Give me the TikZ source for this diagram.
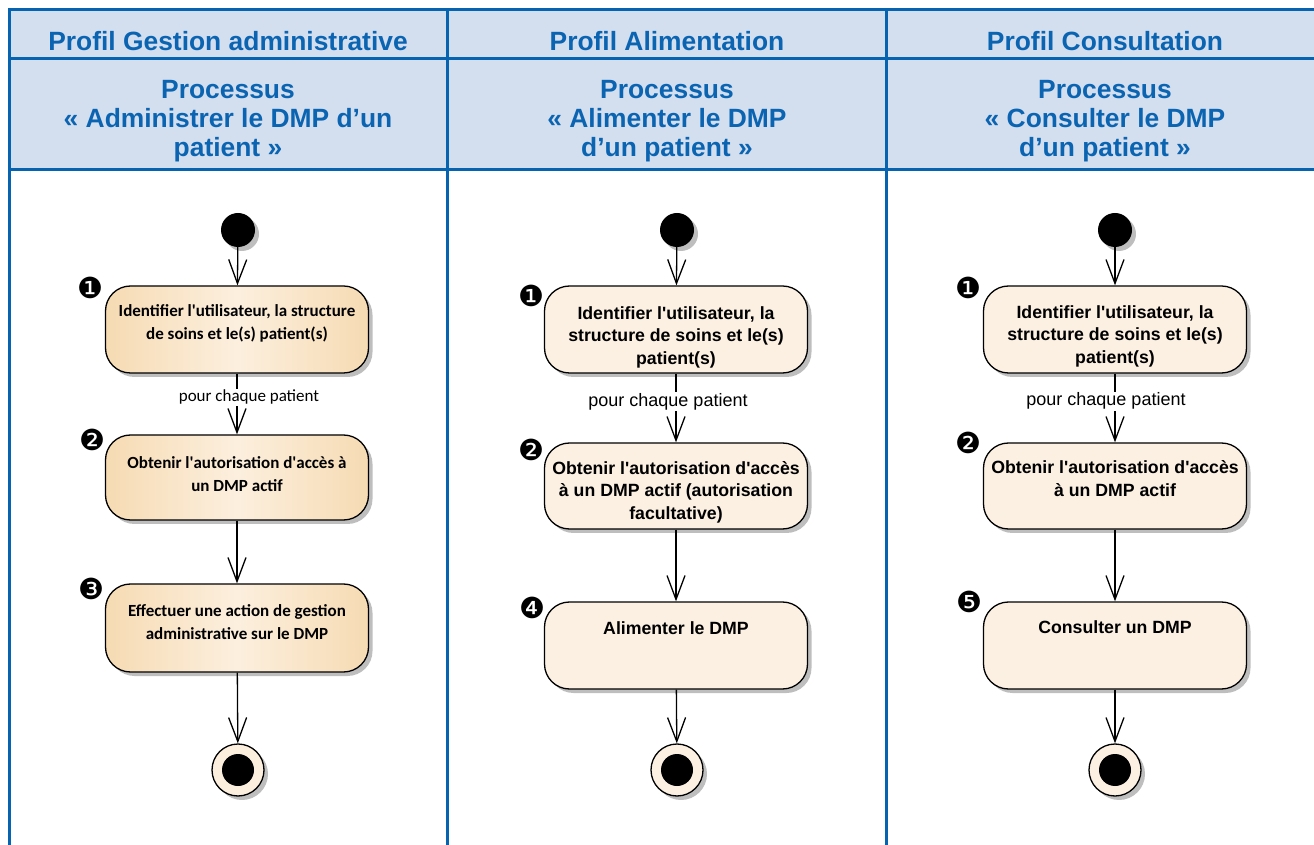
\documentclass[tikz,border=0pt]{standalone}
\usepackage{fontspec}
\setmainfont{Liberation Sans}
\newfontfamily\calibri{Carlito}
\newfontfamily\puces{DejaVu Sans}
\usetikzlibrary{arrows.meta,shadows,positioning}
\definecolor{bleuT}{RGB}{5,99,176}
\definecolor{bleuX}{RGB}{10,100,178}
\definecolor{bleuF}{RGB}{211,223,238}
\definecolor{beige}{RGB}{251,240,226}
\definecolor{ocreF}{RGB}{246,219,179}
\definecolor{ocreC}{RGB}{252,239,222}
\definecolor{ombre}{RGB}{190,190,190}

\begin{document}
\begin{tikzpicture}[x=1pt,y=1pt,
	cadre/.style={draw=bleuT, line width=3pt},
	titre/.style={font=\bfseries\fontsize{26.4}{29}\selectfont, text=bleuX, align=center, inner sep=0pt, anchor=base},
	ombrage/.style={drop shadow={shadow xshift=4pt, shadow yshift=-4pt, fill=ombre, opacity=1}},
	action/.style={draw, line width=1.3pt, rounded corners=25pt, minimum width=263pt, minimum height=87pt, fill=beige, ombrage},
	actionA/.style={action, left color=ocreF, right color=ocreF, middle color=ocreC},
	texte/.style={font=\bfseries\fontsize{17.7}{22.5}\selectfont, align=center, inner sep=0pt, anchor=base},
	texteA/.style={font=\calibri\bfseries\fontsize{17}{23}\selectfont, align=center, inner sep=0pt, anchor=base},
	garde/.style={font=\fontsize{18}{20}\selectfont, fill=white, inner sep=1pt},
	gardeA/.style={font=\calibri\fontsize{17}{20}\selectfont, fill=white, inner sep=1pt},
	puce/.style={font=\puces\fontsize{29}{29}\selectfont, inner sep=0pt},
	debut/.style={circle, fill=black, minimum size=34pt, inner sep=0pt, ombrage},
	fin/.style={circle, draw, line width=1.3pt, fill=beige, minimum size=52pt, inner sep=0pt, ombrage},
	fleche/.style={line width=1.3pt, -{Straight Barb[length=24pt,width=18pt,line width=1.3pt]}}]
	\useasboundingbox (0,0) rectangle (1314,844);

	% Bandeau des couloirs
	\fill[bleuF] (9,834) rectangle (1320,674);
	\draw[cadre] (1320,834) -- (9,834) -- (9,-5);
	\draw[cadre] (9,785) -- (1320,785);
	\draw[cadre] (9,674) -- (1320,674);
	\draw[cadre] (447,834) -- (447,-5);
	\draw[cadre] (886,834) -- (886,-5);

	\node[titre] (h1) at (228,793) {Profil Gestion administrative};
	\node[titre] (h2) at (667,793) {Profil Alimentation};
	\node[titre] (h3) at (1105,793) {Profil Consultation};
	% la base d'un texte sur plusieurs lignes est celle de la derniere ligne
	\node[titre] (q1) at (228,687) {Processus\\« Administrer le DMP d’un\\patient »};
	\node[titre] (q2) at (667,687) {Processus\\« Alimenter le DMP\\d’un patient »};
	\node[titre] (q3) at (1105,687) {Processus\\« Consulter le DMP\\d’un patient »};

	% Couloir 1 : gestion administrative
	\node[debut] (d1) at (238,614) {};
	\node[actionA] (a11) at (237,514.5) {};
	\node[actionA, minimum height=85pt] (a12) at (237,366.5) {};
	\node[actionA, minimum height=88pt] (a13) at (237,216) {};
	\node[fin, fill=ocreC] (f1) at (238,74) {};
	\fill (f1.center) circle (16);
	\node[texteA] (t11) at ([yshift=-54pt]a11.north) {Identifier l\textquotesingle utilisateur, la structure\\de soins et le(s) patient(s)};
	\node[texteA] (t12) at ([yshift=-57pt]a12.north) {Obtenir l\textquotesingle autorisation d\textquotesingle accès à\\un DMP actif};
	\node[texteA] (t13) at ([yshift=-56pt]a13.north) {Effectuer une action de gestion\\administrative sur le DMP};
	\node[puce] (m11) at (90,556) {❶};
	\node[puce] (m12) at (92,404) {❷};
	\node[puce] (m13) at (91,255) {❸};
	\draw[fleche] (d1) -- (a11);
	\draw[fleche] (a11) -- node[gardeA, pos=0.39, xshift=12pt] (g1) {pour chaque patient} (a12);
	\draw[fleche] (a12) -- (a13);
	\draw[fleche] (a13) -- (f1);

	% Couloir 2 : alimentation
	\node[debut] (d2) at (677,614) {};
	\node[action] (a21) at (676,514.5) {};
	\node[action, minimum height=86pt] (a22) at (676,358) {};
	\node[action] (a24) at (676,198.5) {};
	\node[fin] (f2) at (677,74) {};
	\fill (f2.center) circle (16);
	\node[texte] (t21) at ([yshift=-79pt]a21.north) {Identifier l\textquotesingle utilisateur, la\\structure de soins et le(s)\\patient(s)};
	\node[texte] (t22) at ([yshift=-77pt]a22.north) {Obtenir l\textquotesingle autorisation d\textquotesingle accès\\à un DMP actif (autorisation\\facultative)};
	\node[texte] (t24) at ([yshift=-33pt]a24.north) {Alimenter le DMP};
	\node[puce] (m21) at (531,548) {❶};
	\node[puce] (m22) at (531,394) {❷};
	\node[puce] (m24) at (532,236) {❹};
	\draw[fleche] (d2) -- (a21);
	\draw[fleche] (a21) -- node[garde, pos=0.41, xshift=-8pt] (g2) {pour chaque patient} (a22);
	\draw[fleche] (a22) -- (a24);
	\draw[fleche] (a24) -- (f2);

	% Couloir 3 : consultation
	\node[debut] (d3) at (1115,614) {};
	\node[action] (a31) at (1115,514.5) {};
	\node[action, minimum height=86pt] (a32) at (1115,358) {};
	\node[action] (a35) at (1115,198.5) {};
	\node[fin] (f3) at (1115,74) {};
	\fill (f3.center) circle (16);
	\node[texte] (t31) at ([yshift=-78pt]a31.north) {Identifier l\textquotesingle utilisateur, la\\structure de soins et le(s)\\patient(s)};
	\node[texte] (t32) at ([yshift=-54pt]a32.north) {Obtenir l\textquotesingle autorisation d\textquotesingle accès\\à un DMP actif};
	\node[texte] (t35) at ([yshift=-32pt]a35.north) {Consulter un DMP};
	\node[puce] (m31) at (968,556) {❶};
	\node[puce] (m32) at (968,401) {❷};
	\node[puce] (m35) at (969,242) {❺};
	\draw[fleche] (d3) -- (a31);
	\draw[fleche] (a31) -- node[garde, pos=0.4, xshift=-9pt] (g3) {pour chaque patient} (a32);
	\draw[fleche] (a32) -- (a35);
	\draw[fleche] (a35) -- (f3);
\end{tikzpicture}
\end{document}
